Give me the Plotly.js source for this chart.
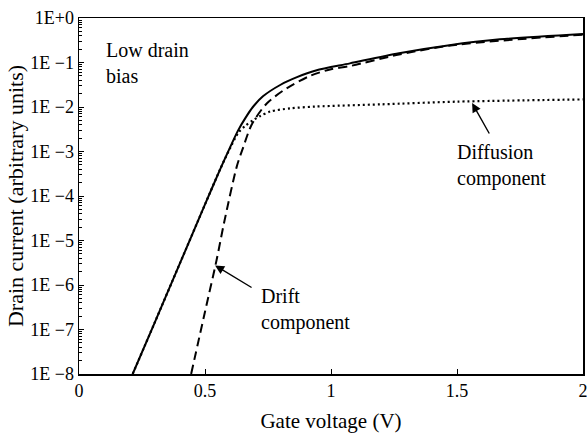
<!DOCTYPE html>
<html>
<head>
<meta charset="utf-8">
<script src="https://cdn.plot.ly/plotly-3.0.1.min.js"></script>
<style>html,body{margin:0;padding:0;background:#fff;}#chart{width:587px;height:433px;}</style>
</head>
<body>
<div id="chart"></div>
<script>
// Total drain current (solid)
const totalV   = [0.213, 0.30, 0.40, 0.50, 0.56, 0.60, 0.632, 0.66, 0.69, 0.73, 0.80, 0.865, 0.94, 1.075, 1.27, 1.47, 1.67, 2.0];
const totalLog = [-8, -6.85, -5.52, -4.19, -3.40, -2.90, -2.52, -2.25, -2.00, -1.76, -1.50, -1.33, -1.18, -1.02, -0.79, -0.61, -0.48, -0.36];
// Diffusion component (dotted)
const diffV    = [0.213, 0.30, 0.40, 0.50, 0.56, 0.60, 0.632, 0.66, 0.69, 0.72, 0.76, 0.84, 0.94, 1.2, 1.5, 2.0];
const diffLog  = [-8, -6.85, -5.52, -4.19, -3.40, -2.92, -2.58, -2.42, -2.30, -2.20, -2.10, -2.03, -1.99, -1.94, -1.88, -1.83];
// Drift component (dashed)
const driftV   = [0.445, 0.50, 0.546, 0.575, 0.626, 0.652, 0.685, 0.745, 0.824, 0.917, 1.0, 1.075, 1.27, 1.5, 2.0];
const driftLog = [-8, -6.6, -5.44, -4.62, -3.34, -2.90, -2.40, -1.92, -1.58, -1.30, -1.15, -1.08, -0.82, -0.60, -0.375];
// Axis ticks
const xTickVals = [0, 0.5, 1, 1.5, 2];
const xTickText = ['0', '0.5', '1', '1.5', '2'];
const yTickVals = [1e-8, 1e-7, 1e-6, 1e-5, 1e-4, 1e-3, 1e-2, 1e-1, 1e0];
const yTickText = ['1E \u22128', '1E \u22127', '1E \u22126', '1E \u22125', '1E \u22124', '1E \u22123', '1E \u22122', '1E \u22121', '1E+0'];

const pow10 = a => a.map(v => Math.pow(10, v));
const FONT = 'Liberation Serif';

const traces = [
  {x: totalV, y: pow10(totalLog), mode: 'lines', line: {color: '#000', width: 2, shape: 'spline', smoothing: 0.8}, name: 'Total'},
  {x: diffV, y: pow10(diffLog), mode: 'lines', line: {color: '#000', width: 2.2, dash: '2px,3px', shape: 'spline', smoothing: 0.8}, name: 'Diffusion'},
  {x: driftV, y: pow10(driftLog), mode: 'lines', line: {color: '#000', width: 2, dash: '9px,5px', shape: 'spline', smoothing: 0.8}, name: 'Drift'}
];

const layout = {
  width: 587, height: 433,
  margin: {l: 79, r: 4, t: 18, b: 59},
  paper_bgcolor: '#fff', plot_bgcolor: '#fff',
  showlegend: false,
  font: {family: FONT, color: '#000', size: 17},
  xaxis: {
    range: [0, 2], tickmode: 'array', tickvals: xTickVals, ticktext: xTickText,
    ticks: 'inside', ticklen: 5, tickwidth: 1, tickcolor: '#000',
    ticklabeloverflow: 'allow',
    showline: true, linecolor: '#000', linewidth: 1.5, mirror: true,
    showgrid: false, zeroline: false,
    tickfont: {family: FONT, size: 18, color: '#000'},
    title: {text: 'Gate voltage (V)', font: {family: FONT, size: 21, color: '#000'}}
  },
  yaxis: {
    type: 'log', range: [-8, 0], tickmode: 'array', tickvals: yTickVals, ticktext: yTickText,
    ticks: 'inside', ticklen: 5, tickwidth: 1, tickcolor: '#000',
    minor: {ticks: 'inside', ticklen: 3, tickcolor: '#000', dtick: 'D1', showgrid: false},
    showline: true, linecolor: '#000', linewidth: 1.5, mirror: true,
    showgrid: false, zeroline: false,
    tickfont: {family: FONT, size: 18, color: '#000'},
    title: {text: 'Drain current (arbitrary units)', font: {family: FONT, size: 22, color: '#000'}}
  },
  annotations: [
    {x: 0.10, y: -1.02, xref: 'x', yref: 'y', text: 'Low drain<br>bias', showarrow: false,
     xanchor: 'left', yanchor: 'middle', align: 'left', font: {family: FONT, size: 20, color: '#000'}},
    {x: 0.714, y: -6.55, xref: 'x', yref: 'y', text: 'Drift<br>component', showarrow: false,
     xanchor: 'left', yanchor: 'middle', align: 'left', font: {family: FONT, size: 20, color: '#000'}},
    {x: 1.492, y: -3.31, xref: 'x', yref: 'y', text: 'Diffusion<br>component', showarrow: false,
     xanchor: 'left', yanchor: 'middle', align: 'left', font: {family: FONT, size: 20, color: '#000'}},
    {x: 0.54, y: -5.56, xref: 'x', yref: 'y', text: '', showarrow: true, ax: 38, ay: 23,
     arrowhead: 2, arrowsize: 1.3, arrowwidth: 1.4, arrowcolor: '#000', standoff: 0},
    {x: 1.56, y: -1.91, xref: 'x', yref: 'y', text: '', showarrow: true, ax: 18, ay: 32,
     arrowhead: 2, arrowsize: 1.3, arrowwidth: 1.4, arrowcolor: '#000', standoff: 0}
  ]
};

Plotly.newPlot('chart', traces, layout, {staticPlot: true, displayModeBar: false});
</script>
</body>
</html>
